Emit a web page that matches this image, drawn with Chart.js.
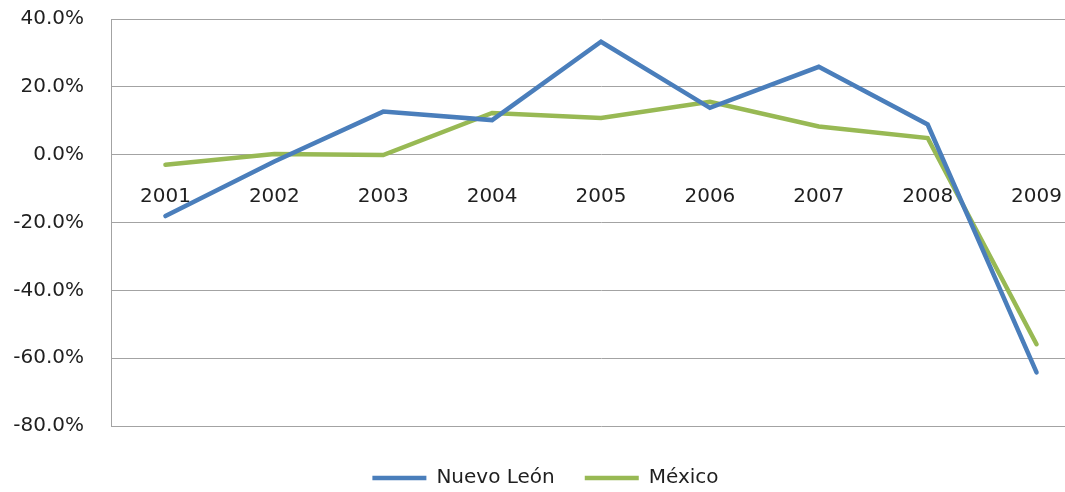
<!DOCTYPE html>
<html>
<head>
<meta charset="utf-8">
<script src="https://cdn.jsdelivr.net/npm/chart.js@4.4.1/dist/chart.umd.min.js"></script>
<style>
  html, body { margin: 0; padding: 0; background: #fff; overflow: hidden; width: 1065px; height: 492px; }
  #wrap { width: 1109px; height: 492px; }
</style>
</head>
<body>
<div id="wrap"><canvas id="c" width="1109" height="492"></canvas></div>
<script>
const years = ['2001','2002','2003','2004','2005','2006','2007','2008','2009'];
const nuevoLeon = [-18.1, -2.0, 12.7, 10.2, 33.3, 13.8, 25.9, 8.9, -64.2];
const mexico = [-3.0, 0.2, -0.1, 12.3, 10.8, 15.6, 8.3, 4.9, -55.9];
const yTicks = [-80, -60, -40, -20, 0, 20, 40];

const FONT = 'DejaVu Sans';
const TXT = '#1f1f1f';
const GRID = '#a3a3a3';

new Chart(document.getElementById('c'), {
  type: 'line',
  data: {
    labels: years,
    datasets: [
      { label: 'Nuevo León', data: nuevoLeon, borderColor: '#4a7ebb', backgroundColor: '#4a7ebb',
        borderWidth: 4.5, pointRadius: 0, tension: 0, borderCapStyle: 'round', borderJoinStyle: 'miter', pointStyle: 'line' },
      { label: 'México', data: mexico, borderColor: '#98b954', backgroundColor: '#98b954',
        borderWidth: 4.5, pointRadius: 0, tension: 0, borderCapStyle: 'round', borderJoinStyle: 'miter', pointStyle: 'line' }
    ]
  },
  options: {
    responsive: false,
    animation: false,
    layout: { padding: { top: 19, right: 18, left: 0, bottom: -6 } },
    plugins: {
      tooltip: { enabled: false },
      legend: {
        position: 'bottom',
        labels: {
          usePointStyle: true, pointStyle: 'line', pointStyleWidth: 54,
          font: { family: FONT, size: 20 }, color: TXT, padding: 30
        }
      }
    },
    scales: {
      x: {
        type: 'category',
        offset: true,
        position: { y: 0 },
        grid: { display: false, drawTicks: false },
        border: { display: false },
        ticks: { font: { family: FONT, size: 20 }, color: TXT, padding: 30, maxRotation: 0, autoSkip: false }
      },
      x2: {
        type: 'category',
        position: 'bottom',
        display: true,
        grid: { display: false, drawTicks: false },
        border: { display: false },
        ticks: { display: false },
        afterFit: s => { s.height = 12; }
      },
      y: {
        min: -80, max: 40,
        afterBuildTicks: s => { s.ticks = yTicks.map(v => ({ value: v })); },
        afterFit: s => { s.width = 111; s.paddingTop = 0; s.paddingBottom = 0; },
        grid: { color: GRID, lineWidth: 1, drawTicks: false },
        border: { display: true, color: GRID, width: 1 },
        ticks: { font: { family: FONT, size: 20 }, color: TXT, padding: 27,
                 callback: v => v.toFixed(1) + '%' }
      }
    }
  }
});
</script>
</body>
</html>
